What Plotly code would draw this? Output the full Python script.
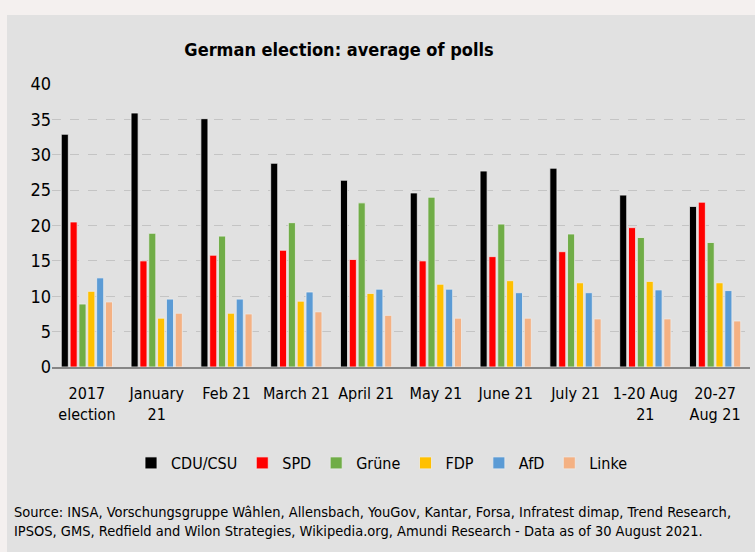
import plotly.graph_objects as go

categories = ["2017<br>election", "January<br>21", "Feb 21", "March 21", "April 21",
              "May 21", "June 21", "July 21", "1-20 Aug<br>21", "20-27<br>Aug 21"]
cdu = [32.9, 35.9, 35.1, 28.8, 26.4, 24.6, 27.7, 28.1, 24.3, 22.7]
spd = [20.5, 15.0, 15.8, 16.5, 15.2, 15.0, 15.6, 16.3, 19.7, 23.3]
gruene = [8.9, 18.9, 18.5, 20.4, 23.2, 24.0, 20.2, 18.8, 18.3, 17.6]
fdp = [10.7, 6.9, 7.6, 9.3, 10.4, 11.7, 12.2, 11.9, 12.1, 11.9]
afd = [12.6, 9.6, 9.6, 10.6, 11.0, 11.0, 10.5, 10.5, 10.9, 10.8]
linke = [9.2, 7.6, 7.5, 7.8, 7.3, 6.9, 6.9, 6.8, 6.8, 6.5]

series_names = ["CDU/CSU", "SPD", "Grüne", "FDP", "AfD", "Linke"]
series_values = [cdu, spd, gruene, fdp, afd, linke]
colors = ["#000000", "#ff0000", "#70ad47", "#ffc000", "#5b9bd5", "#f4b183"]

FONT = "DejaVu Sans Condensed, Liberation Sans, Arial, sans-serif"

fig = go.Figure()
for name, vals, col in zip(series_names, series_values, colors):
    fig.add_trace(go.Bar(x=categories, y=vals, name=name,
                         marker=dict(color=col, line=dict(color="#ececec", width=0.8))))

W, H = 755, 552
L, R, T, B = 52, 5, 84, 185
pw, ph = W - L - R, H - T - B

def px_x(x):
    return (x - L) / pw

def px_y(y):
    return 1 - (y - T) / ph

fig.add_shape(type="rect", xref="paper", yref="paper",
              x0=px_x(7), x1=px_x(W + 5), y0=px_y(15), y1=px_y(H + 5),
              fillcolor="#e1e1e1", line=dict(width=0), layer="below")

fig.update_layout(
    width=W, height=H,
    margin=dict(l=L, r=R, t=T, b=B),
    paper_bgcolor="#f4f0ef",
    plot_bgcolor="rgba(0,0,0,0)",
    font=dict(family=FONT, size=16, color="#000000"),
    title=dict(text="<b>German election: average of polls</b>",
               x=339 / W, xanchor="center",
               y=1 - 50 / H, yanchor="middle",
               font=dict(family=FONT, size=18, color="#000000")),
    barmode="group", bargap=0.24, bargroupgap=0.2,
    showlegend=True,
    legend=dict(orientation="h", x=px_x(382), xanchor="center",
                y=px_y(463), yanchor="middle",
                font=dict(family=FONT, size=16),
                bgcolor="rgba(0,0,0,0)", traceorder="normal"),
    xaxis=dict(showline=True, linecolor="#868686", linewidth=2,
               ticks="", tickfont=dict(family=FONT, size=16),
               ticklabelstandoff=11,
               showgrid=False, zeroline=False),
    yaxis=dict(range=[0, 40], dtick=5, showgrid=True, gridcolor="#c4c4c4",
               griddash="dash", gridwidth=1.2, zeroline=False,
               tickfont=dict(family=FONT, size=18), ticks="", ticklen=0),
)

fig.add_annotation(
    text="Source: INSA, Vorschungsgruppe Wâhlen, Allensbach, YouGov, Kantar, Forsa, Infratest dimap, Trend Research,<br>"
         "IPSOS, GMS, Redfield and Wilon Strategies, Wikipedia.org, Amundi Research - Data as of 30 August 2021.",
    xref="paper", yref="paper", x=px_x(12), y=px_y(521),
    xanchor="left", yanchor="middle", align="left", showarrow=False,
    font=dict(family=FONT, size=14.5, color="#000000"))

fig.write_html("out.html")
